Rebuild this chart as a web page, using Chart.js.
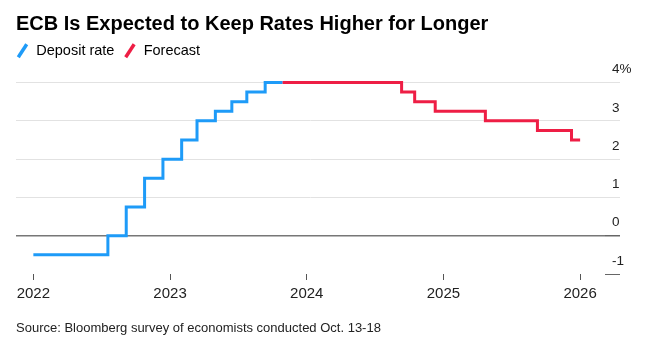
<!DOCTYPE html>
<html>
<head>
<meta charset="utf-8">
<script src="https://cdn.jsdelivr.net/npm/chart.js@4/dist/chart.umd.min.js"></script>
<style>
  body { margin: 0; background: #fff; }
  #wrap { width: 661px; height: 352px; position: relative; }
</style>
</head>
<body>
<div id="wrap"><canvas id="ecbChart"></canvas></div>
<script>
// ECB deposit rate, step dates
const depositDates = ['2022-01-01', '2022-07-19', '2022-09-06', '2022-10-25', '2022-12-13', '2023-02-01',
  '2023-03-14', '2023-05-02', '2023-06-15', '2023-07-25', '2023-09-12', '2023-10-28'];
const depositRates = [-0.5, 0, 0.75, 1.5, 2.0, 2.5, 3.0, 3.25, 3.5, 3.75, 4.0, 4.0];

// survey forecast
const forecastDates = ['2023-10-28', '2024-09-11', '2024-10-16', '2024-12-10', '2025-04-23',
  '2025-09-09', '2025-12-09', '2026-01-01'];
const forecastRates = [4.0, 3.75, 3.5, 3.25, 3.0, 2.75, 2.5, 2.5];

const yearTicks = [2022, 2023, 2024, 2025, 2026];
const rateTicks = [-1, 0, 1, 2, 3, 4];

const blue = '#1e9bf8';
const red = '#ee1e45';

// date string -> fractional year, so a plain linear axis can be used
function toYear(s) {
  const d = Date.parse(s + 'T00:00:00Z');
  const y = new Date(d).getUTCFullYear();
  const start = Date.UTC(y, 0, 1), end = Date.UTC(y + 1, 0, 1);
  return y + (d - start) / (end - start);
}
function points(dates, vals) {
  return dates.map((d, i) => ({ x: toYear(d), y: vals[i] }));
}

Chart.defaults.font.family = "'Liberation Sans', Arial, sans-serif";
Chart.defaults.color = '#222';

// pull the legend back so its first marker lines up with the title
const legendFlush = {
  id: 'legendFlush',
  afterLayout(chart) {
    chart.legend.left -= chart.legend.options.labels.padding;
  }
};

const ctx = document.getElementById('ecbChart');
new Chart(ctx, {
  type: 'line',
  data: {
    datasets: [{
      label: 'Deposit rate',
      data: points(depositDates, depositRates),
      borderColor: blue,
      borderWidth: 3,
      pointRadius: 0,
      stepped: true,
      fill: false
    }, {
      label: 'Forecast',
      data: points(forecastDates, forecastRates),
      borderColor: red,
      borderWidth: 3,
      pointRadius: 0,
      stepped: true,
      fill: false
    }]
  },
  options: {
    responsive: true,
    maintainAspectRatio: false,
    animation: false,
    layout: { padding: { left: 16, right: 0, top: 0, bottom: 0 } },
    plugins: {
      title: {
        display: true,
        text: 'ECB Is Expected to Keep Rates Higher for Longer',
        align: 'start',
        color: '#000',
        font: { size: 20, weight: 'bold', lineHeight: 1 },
        padding: { top: 14.5, bottom: 0 }
      },
      legend: {
        display: true,
        align: 'start',
        labels: {
          usePointStyle: true,
          boxWidth: 13,
          boxHeight: 11,
          padding: 9,
          color: '#222',
          font: { size: 14.5 },
          generateLabels(chart) {
            return chart.data.datasets.map((ds, i) => ({
              text: ds.label,
              fillStyle: ds.borderColor,
              strokeStyle: ds.borderColor,
              lineWidth: 3.5,
              pointStyle: 'line',
              rotation: -57,
              hidden: false,
              datasetIndex: i
            }));
          }
        }
      },
      subtitle: {
        display: true,
        position: 'bottom',
        align: 'start',
        text: 'Source: Bloomberg survey of economists conducted Oct. 13-18',
        color: '#222',
        font: { size: 13, lineHeight: 1.2 },
        padding: { top: 12.4, bottom: 16 }
      },
      tooltip: { enabled: false }
    },
    scales: {
      x: {
        type: 'linear',
        min: 2021.873,
        max: 2026.182,
        border: { display: false },
        grid: {
          drawOnChartArea: false,
          drawTicks: true,
          tickLength: 6,
          tickColor: '#555',
          tickWidth: 1
        },
        afterBuildTicks(scale) {
          scale.ticks = yearTicks.map(v => ({ value: v }));
        },
        ticks: {
          padding: 5,
          color: '#222',
          font: { size: 15 },
          maxRotation: 0,
          callback: v => String(v)
        }
      },
      y: {
        position: 'right',
        min: -1,
        max: 4.38,
        border: { display: false },
        grid: {
          drawTicks: true,
          tickLength: 15,
          lineWidth: ctx => (ctx.tick && ctx.tick.value === 0 ? 1.5 : 1),
          color: ctx => {
            const v = ctx.tick && ctx.tick.value;
            if (v === 0) return '#777';
            if (v === -1) return 'rgba(0,0,0,0)';
            return '#e2e2e2';
          },
          tickColor: ctx => {
            const v = ctx.tick && ctx.tick.value;
            if (v === 0 || v === -1) return '#666';
            return '#e2e2e2';
          }
        },
        afterBuildTicks(scale) {
          scale.ticks = rateTicks.map(v => ({ value: v }));
        },
        afterFit(scale) {
          scale.width = 56;
        },
        ticks: {
          padding: -8,
          labelOffset: -13,
          crossAlign: 'near',
          color: '#222',
          font: { size: 13.5 },
          callback: v => (v === 4 ? '4%' : String(v))
        }
      }
    }
  },
  plugins: [legendFlush]
});
</script>
</body>
</html>
